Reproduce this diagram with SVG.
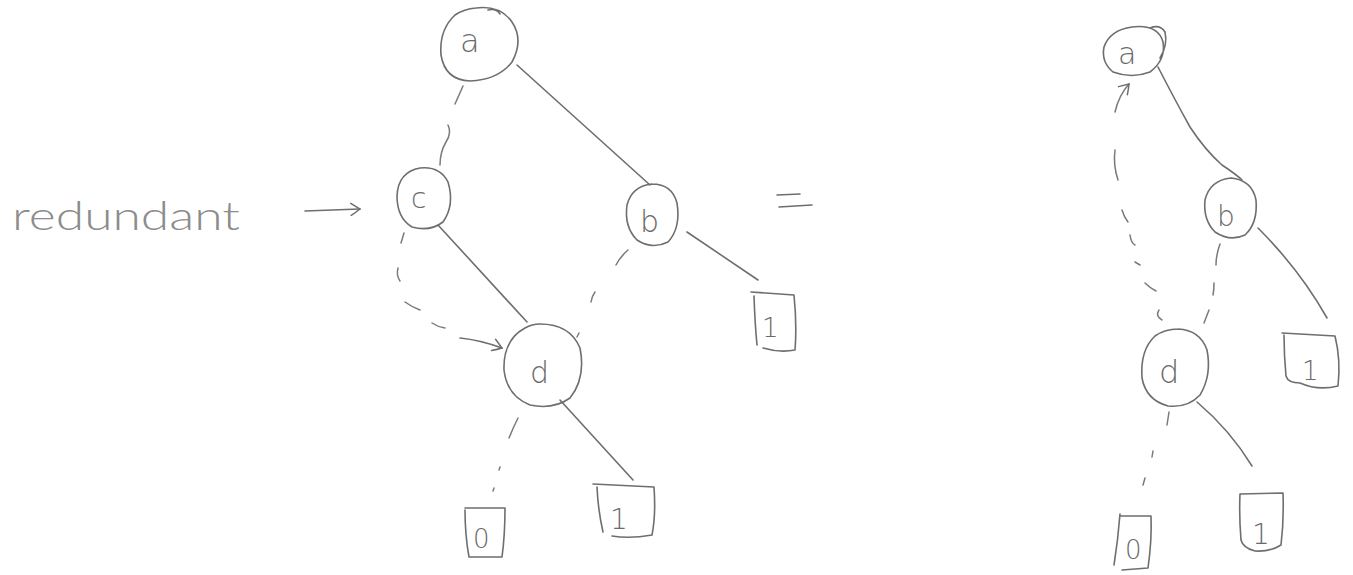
<svg xmlns="http://www.w3.org/2000/svg" width="1353" height="575" viewBox="0 0 1353 575">
  <defs>
    <style>
      .ink { fill: none; stroke: #6e6e6e; stroke-width: 1.6; stroke-linecap: round; stroke-linejoin: round; }
      .dash { fill: none; stroke: #7a7a7a; stroke-width: 1.5; stroke-linecap: round; }
      .lbl { font-family: "DejaVu Sans", "Liberation Sans", sans-serif; fill: #6a6a6a; font-weight: 300; }
      .hand { font-family: "Lato", "Open Sans", "Liberation Sans", sans-serif; font-weight: 300; fill: #8c8c8c; }
    </style>
    <marker id="open" markerWidth="14" markerHeight="14" refX="11" refY="7" orient="auto" markerUnits="userSpaceOnUse">
      <path d="M2,1 Q8,5 11,7 Q7,10 2,13" fill="none" stroke="#6e6e6e" stroke-width="1.5" stroke-linecap="round"/>
    </marker>
  </defs>
  <rect width="1353" height="575" fill="#ffffff"/>

  <!-- annotation -->
  <g id="note">
    <text class="hand" x="12" y="230" font-size="40" textLength="228" lengthAdjust="spacingAndGlyphs">redundant</text>
    <path class="ink" d="M305,211 L360,209" marker-end="url(#open)"/>
  </g>
  <g id="equals">
    <path class="ink" d="M777,195 L800,194"/>
    <path class="ink" d="M779,207 L812,205"/>
  </g>

  <!-- left tree: connectors -->
  <g id="edges-left">
    <path class="ink" d="M517,65 L650,185"/>
    <path class="dash" d="M463,86 L455,104"/>
    <path class="dash" d="M448,125 Q452,133 446,142 Q440,152 440,165"/>
    <path class="ink" d="M438,225 L527,322"/>
    <path class="dash" d="M404,233 L401,243"/>
    <path class="dash" d="M398,268 Q396,275 400,281"/>
    <path class="dash" d="M405,302 Q412,307 420,310"/>
    <path class="dash" d="M432,323 Q438,327 445,328"/>
    <path class="ink" d="M460,338 Q480,340 502,348" marker-end="url(#open)"/>
    <path class="dash" d="M628,250 Q620,257 616,265"/>
    <path class="dash" d="M595,292 Q592,296 591,302"/>
    <path class="dash" d="M577,337 L579,333"/>
    <path class="ink" d="M687,232 L758,280"/>
    <path class="dash" d="M518,418 Q513,428 509,438"/>
    <path class="dash" d="M500,467 L499,470"/>
    <path class="dash" d="M494,488 L493,491"/>
    <path class="ink" d="M560,400 L633,480"/>
  </g>

  <!-- left tree: nodes -->
  <g id="node-a-left">
    <path class="ink" d="M476,8 Q500,5 512,22 Q524,40 512,62 Q498,80 470,81 Q445,80 441,55 Q439,30 455,15 Q464,9 476,8 M488,10 Q496,8 500,14"/>
    <text class="lbl" x="460" y="52" font-size="32">a</text>
  </g>
  <g id="node-c-left">
    <path class="ink" d="M420,168 Q440,166 448,182 Q455,205 443,222 Q430,232 412,227 Q397,218 397,196 Q398,172 420,168"/>
    <text class="lbl" x="411" y="208" font-size="28">c</text>
  </g>
  <g id="node-b-left">
    <path class="ink" d="M652,184 Q672,184 677,203 Q681,228 668,242 Q652,250 637,240 Q624,227 627,205 Q632,186 652,184"/>
    <text class="lbl" x="640" y="232" font-size="30">b</text>
  </g>
  <g id="node-d-left">
    <path class="ink" d="M540,324 Q570,324 580,348 Q586,378 570,398 Q553,410 530,405 Q507,396 504,370 Q503,340 525,328 Q532,324 540,324"/>
    <text class="lbl" x="530" y="383" font-size="30">d</text>
  </g>
  <g id="leaf-1-b-left">
    <path class="ink" d="M751,292 L794,295 Q797,325 795,350 Q780,353 763,348 M754,296 Q755,325 757,345"/>
    <text class="lbl" x="762" y="337" font-size="26">1</text>
  </g>
  <g id="leaf-0-left">
    <path class="ink" d="M465,508 L505,508 Q505,535 502,557 L469,557 Q465,535 465,510"/>
    <text class="lbl" x="473" y="548" font-size="26">0</text>
  </g>
  <g id="leaf-1-d-left">
    <path class="ink" d="M593,484 L654,487 Q656,515 652,535 Q630,539 612,536 M597,487 Q598,510 603,532"/>
    <text class="lbl" x="610" y="529" font-size="28">1</text>
  </g>

  <!-- right tree: connectors -->
  <g id="edges-right">
    <path class="ink" d="M1158,67 Q1175,100 1190,127 Q1205,150 1222,165 Q1237,175 1242,180"/>
    <path class="dash" d="M1115,112 Q1119,95 1129,84" marker-end="url(#open)"/>
    <path class="dash" d="M1115,150 Q1113,165 1118,180"/>
    <path class="dash" d="M1122,210 Q1124,217 1128,222"/>
    <path class="dash" d="M1130,235 Q1131,243 1135,245"/>
    <path class="dash" d="M1135,262 L1140,265"/>
    <path class="dash" d="M1145,283 Q1150,288 1156,291"/>
    <path class="dash" d="M1159,310 Q1155,316 1162,320"/>
    <path class="dash" d="M1220,244 Q1216,255 1216,265"/>
    <path class="dash" d="M1214,283 Q1214,290 1213,295"/>
    <path class="dash" d="M1209,310 L1204,323"/>
    <path class="ink" d="M1258,228 Q1300,270 1327,318"/>
    <path class="dash" d="M1169,412 L1167,425"/>
    <path class="dash" d="M1153,451 L1152,457"/>
    <path class="dash" d="M1145,478 L1143,485"/>
    <path class="ink" d="M1197,402 Q1230,430 1252,466"/>
  </g>

  <!-- right tree: nodes -->
  <g id="node-a-right">
    <path class="ink" d="M1132,27 Q1158,24 1163,42 Q1166,60 1150,72 Q1132,79 1113,72 Q1101,62 1104,47 Q1110,30 1132,27 M1150,28 Q1160,24 1165,32 Q1168,45 1160,58"/>
    <text class="lbl" x="1118" y="64" font-size="30">a</text>
  </g>
  <g id="node-b-right">
    <path class="ink" d="M1231,178 Q1252,180 1256,200 Q1258,223 1245,235 Q1230,242 1215,232 Q1203,220 1205,200 Q1210,180 1231,178"/>
    <text class="lbl" x="1217" y="226" font-size="28">b</text>
  </g>
  <g id="node-d-right">
    <path class="ink" d="M1178,329 Q1200,330 1207,350 Q1212,375 1200,395 Q1188,408 1168,406 Q1146,400 1142,378 Q1140,350 1155,336 Q1165,329 1178,329"/>
    <text class="lbl" x="1159" y="383" font-size="32">d</text>
  </g>
  <g id="leaf-1-b-right">
    <path class="ink" d="M1282,333 L1335,336 Q1341,360 1338,386 Q1318,391 1300,383 Q1288,383 1286,376 Q1284,355 1284,335"/>
    <text class="lbl" x="1302" y="380" font-size="26">1</text>
  </g>
  <g id="leaf-1-d-right">
    <path class="ink" d="M1240,494 L1283,493 Q1284,520 1281,545 Q1270,552 1255,551 Q1243,548 1241,540 Q1239,515 1240,494"/>
    <text class="lbl" x="1252" y="544" font-size="28">1</text>
  </g>
  <g id="leaf-0-right">
    <path class="ink" d="M1120,516 L1151,516 Q1152,540 1148,568 L1122,570 M1120,514 Q1118,540 1114,565"/>
    <text class="lbl" x="1125" y="559" font-size="26">0</text>
  </g>
</svg>
